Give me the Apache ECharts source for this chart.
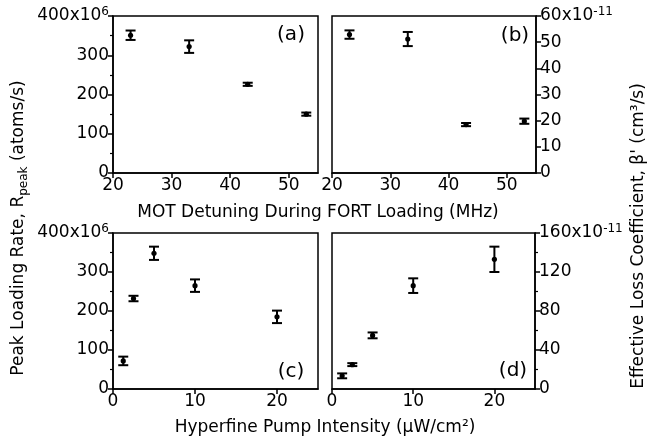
<!DOCTYPE html>
<html>
<head>
<meta charset="utf-8">
<script src="https://cdn.jsdelivr.net/npm/echarts@6/dist/echarts.min.js"></script>
<style>
  html, body {margin: 0; padding: 0; background: #fff;}
  #chart {width: 648px; height: 444px;}
</style>
</head>
<body>
<div id="chart"></div>
<script>
// MOT detuning (MHz) and values for (a), (b)
const detuning = [23, 33, 43, 53]
const rateA = [351, 322, 226, 150]
const rateAErr = [12, 16, 4, 4]
const betaB = [52.9, 51.2, 18.5, 19.8]
const betaBErr = [1.6, 2.7, 0.6, 1.0]

// hyperfine pump intensity (uW/cm^2) and values for (c), (d)
const intensity = [1.25, 2.5, 5, 10, 20]
const rateC = [72, 232, 348, 265, 185]
const rateCErr = [11, 7, 17, 16, 16]
const betaD = [13.5, 25, 55, 106, 133]
const betaDErr = [2.5, 1.5, 3, 7.5, 13]

const detuningTicks = [20, 30, 40, 50]
const intensityTicks = [0, 10, 20]

const FONT = 'DejaVu Sans'
const black = '#000'

const zip = (xs, ys, es) => xs.map((x, i) => [x, ys[i], es[i]])

const errorBar = (params, api) => {
  const x = api.value(0)
  const y = api.value(1)
  const e = api.value(2)
  const top = api.coord([x, y + e])
  const bot = api.coord([x, y - e])
  const c = api.coord([x, y])
  const w = 5
  const st = {stroke: black, lineWidth: 2}
  return {
    type: 'group',
    children: [
      {type: 'line', shape: {x1: top[0], y1: top[1], x2: bot[0], y2: bot[1]}, style: st},
      {type: 'line', shape: {x1: top[0] - w, y1: top[1], x2: top[0] + w, y2: top[1]}, style: st},
      {type: 'line', shape: {x1: bot[0] - w, y1: bot[1], x2: bot[0] + w, y2: bot[1]}, style: st},
      {type: 'circle', shape: {cx: c[0], cy: c[1], r: 2.6}, style: {fill: black}},
    ],
  }
}

const supLabel = (top, exp) => (v) => v === top ? `{n|${v}x10}{s|${exp}}` : `{n|${v}}`

const labelRich = {
  n: {fontFamily: FONT, fontSize: 17, color: black, lineHeight: 20},
  s: {fontFamily: FONT, fontSize: 12, color: black, verticalAlign: 'top', lineHeight: 12},
}

const xAxisFor = (gridIndex, min, max, ticks) => ({
  type: 'value',
  gridIndex,
  min,
  max,
  interval: 10,
  axisLine: {show: true, lineStyle: {color: black, width: 1.5}},
  axisTick: {show: true, inside: false, length: 5, customValues: ticks, lineStyle: {color: black, width: 1.5}},
  axisLabel: {customValues: ticks, fontFamily: FONT, fontSize: 17, color: black, margin: 4},
  splitLine: {show: false},
})

const yAxisFor = (gridIndex, max, interval, position, exp, minor) => ({
  type: 'value',
  gridIndex,
  position,
  min: 0,
  max,
  interval,
  axisLine: {show: true, onZero: false, lineStyle: {color: black, width: 1.5}},
  axisTick: {show: true, inside: false, length: 5, lineStyle: {color: black, width: 1.5}},
  minorTick: {show: minor, splitNumber: 2, length: 3, lineStyle: {color: black, width: 1.2}},
  axisLabel: {formatter: supLabel(max, exp), rich: labelRich, margin: 4},
  splitLine: {show: false},
  minorSplitLine: {show: false},
})

const gridBox = {show: true, borderColor: black, borderWidth: 1.5, containLabel: false}

const panelText = (text, x, y) => ({
  type: 'text', x, y,
  style: {text, font: `20px "${FONT}"`, fill: black, align: 'center', verticalAlign: 'middle'},
})

const option = {
  animation: false,
  backgroundColor: '#fff',
  textStyle: {fontFamily: FONT},
  grid: [
    {...gridBox, left: 113, top: 16, width: 205, height: 157},
    {...gridBox, left: 332, top: 16, width: 204, height: 157},
    {...gridBox, left: 113, top: 233, width: 205, height: 156},
    {...gridBox, left: 332, top: 233, width: 203, height: 156},
  ],
  xAxis: [
    xAxisFor(0, 20, 55, detuningTicks),
    xAxisFor(1, 20, 55, detuningTicks),
    xAxisFor(2, 0, 25, intensityTicks),
    xAxisFor(3, 0, 25, intensityTicks),
  ],
  yAxis: [
    yAxisFor(0, 400, 100, 'left', '6', true),
    yAxisFor(1, 60, 10, 'right', '-11', false),
    yAxisFor(2, 400, 100, 'left', '6', true),
    yAxisFor(3, 160, 40, 'right', '-11', true),
  ],
  series: [
    {type: 'custom', xAxisIndex: 0, yAxisIndex: 0, renderItem: errorBar, data: zip(detuning, rateA, rateAErr)},
    {type: 'custom', xAxisIndex: 1, yAxisIndex: 1, renderItem: errorBar, data: zip(detuning, betaB, betaBErr)},
    {type: 'custom', xAxisIndex: 2, yAxisIndex: 2, renderItem: errorBar, data: zip(intensity, rateC, rateCErr)},
    {type: 'custom', xAxisIndex: 3, yAxisIndex: 3, renderItem: errorBar, data: zip(intensity, betaD, betaDErr)},
  ],
  graphic: [
    panelText('(a)', 291, 35),
    panelText('(b)', 515, 36),
    panelText('(c)', 291, 372),
    panelText('(d)', 513, 371),
    {
      type: 'text', x: 318, y: 213,
      style: {text: 'MOT Detuning During FORT Loading (MHz)', font: `17px "${FONT}"`, fill: black, align: 'center', verticalAlign: 'middle'},
    },
    {
      type: 'text', x: 325, y: 428,
      style: {text: 'Hyperfine Pump Intensity (μW/cm²)', font: `17px "${FONT}"`, fill: black, align: 'center', verticalAlign: 'middle'},
    },
    {
      type: 'text', x: 19, y: 228, rotation: Math.PI / 2,
      style: {
        text: '{n|Peak Loading Rate, R}{b|peak}{n| (atoms/s)}',
        align: 'center', verticalAlign: 'middle',
        rich: {
          n: {fontFamily: FONT, fontSize: 17, fill: black, lineHeight: 21},
          b: {fontFamily: FONT, fontSize: 12, fill: black, verticalAlign: 'bottom', lineHeight: 12},
        },
      },
    },
    {
      type: 'text', x: 639, y: 236, rotation: Math.PI / 2,
      style: {text: "Effective Loss Coefficient, β' (cm³/s)", font: `17px "${FONT}"`, fill: black, align: 'center', verticalAlign: 'middle'},
    },
  ],
}

const chart = echarts.init(document.getElementById('chart'), null, {renderer: 'canvas'})
chart.setOption(option)
</script>
</body>
</html>
